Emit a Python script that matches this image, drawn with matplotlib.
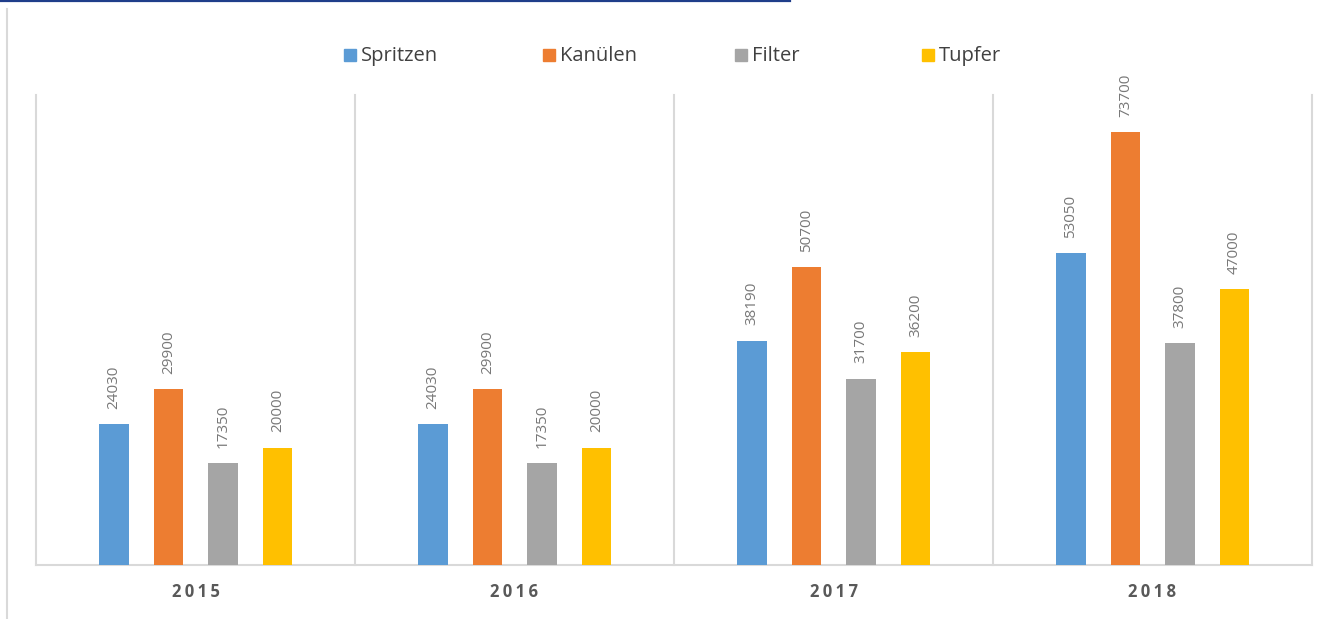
import numpy as np
import matplotlib
matplotlib.use("Agg")
import matplotlib.pyplot as plt
from matplotlib.lines import Line2D
from matplotlib.patches import Rectangle

# Daten
years = ["2015", "2016", "2017", "2018"]
series = ["Spritzen", "Kanülen", "Filter", "Tupfer"]
spritzen = [24030, 24030, 38190, 53050]
kanuelen = [29900, 29900, 50700, 73700]
filter_ = [17350, 17350, 31700, 37800]
tupfer = [20000, 20000, 36200, 47000]
colors = ["#5B9BD5", "#ED7D31", "#A5A5A5", "#FFC000"]

plt.rcParams["font.family"] = ["Open Sans", "DejaVu Sans"]

W, H = 1341, 619
fig = plt.figure(figsize=(W / 100, H / 100), dpi=100)
ax = fig.add_axes([36 / W, 1 - 565 / H, (1312 - 36) / W, (565 - 95) / H])

x = np.arange(len(years))
offsets = [-0.256, -0.085, 0.086, 0.257]
bw = 0.092
for vals, off, c in zip([spritzen, kanuelen, filter_, tupfer], offsets, colors):
    bars = ax.bar(x + off, vals, width=bw, color=c, zorder=3)
    for b, v in zip(bars, vals):
        ax.annotate(str(v), (b.get_x() + b.get_width() / 2, v),
                    xytext=(0, 11), textcoords="offset points",
                    rotation=90, ha="center", va="bottom",
                    fontsize=11, color="#787878")

ax.set_xlim(-0.5, 3.5)
ax.set_ylim(0, 80000)

# Trennlinien zwischen den Jahren
for gx in np.arange(-0.5, 4, 1):
    ax.axvline(gx, color="#d9d9d9", lw=1.5, zorder=1, clip_on=False)

for s in ["top", "right", "left"]:
    ax.spines[s].set_visible(False)
ax.spines["bottom"].set_color("#d9d9d9")
ax.spines["bottom"].set_linewidth(1.5)
ax.set_yticks([])
ax.set_xticks(x)
# etwas Zeichenabstand wie im Original
ax.set_xticklabels(["\u2009".join(y) for y in years], fontsize=12,
                   fontweight="bold", color="#595959")
ax.tick_params(axis="x", length=0, pad=13)

# Legende
leg_x = [344, 543, 735, 922]
for lx, name, c in zip(leg_x, series, colors):
    fig.add_artist(Rectangle((lx / W, 1 - 61 / H), 12 / W, 12 / H,
                             transform=fig.transFigure, color=c))
    fig.text((lx + 17) / W, 1 - 56 / H, name, fontsize=14.5, color="#404040",
             ha="left", va="center")

# Rahmen / Linie oben
fig.add_artist(Line2D([0, 790 / W], [1 - 1 / H, 1 - 1 / H],
                      transform=fig.transFigure, color="#1f3d8a", lw=1.6))
fig.add_artist(Line2D([7 / W, 7 / W], [1 - 9 / H, 0],
                      transform=fig.transFigure, color="#d9d9d9", lw=1.5))

fig.savefig("out.png", dpi=100, facecolor="white")
